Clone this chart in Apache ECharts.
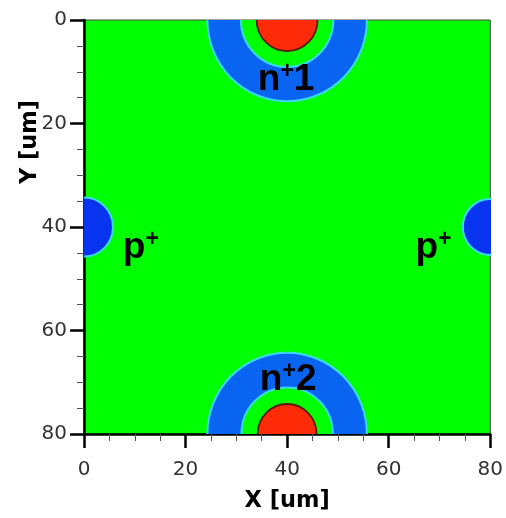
<!DOCTYPE html>
<html>
<head>
<meta charset="utf-8">
<script src="https://cdn.jsdelivr.net/npm/echarts@6/dist/echarts.min.js"></script>
<style>html,body{margin:0;padding:0;background:#fff;}#c{width:506px;height:518px;}</style>
</head>
<body>
<div id="c"></div>
<script>
// Doping regions: [centerX, centerY, radius] in um
const nRingOuter = [[40, 0, 15.7], [40, 80, 15.7]];
const nRingInner = [[40, 0, 9.1], [40, 80, 9.0]];
const nCore = [[40, 0, 6.0], [40, 80, 5.8]];
const pPlusDiscs = [[0, 40, 5.7], [80, 40, 5.4]];

// Annotation labels: [x, y, text]
const labelX = [39.8, 40.2, 11.2, 68.8];
const labelY = [11.6, 69.6, 44.0, 44.0];
const labelText = ['{b|n}{s|+}{b|1}', '{b|n}{s|+}{b|2}', '{b|p}{s|+}', '{b|p}{s|+}'];

const xTicks = [0, 20, 40, 60, 80];
const yTicks = [0, 20, 40, 60, 80];
const xName = 'X [um]';
const yName = 'Y [um]';

function discSeries(data, fill, stroke, lw) {
  return {
    type: 'custom',
    clip: true,
    silent: true,
    data: data,
    renderItem: function (params, api) {
      const c = api.coord([api.value(0), api.value(1)]);
      const s = api.size([api.value(2), api.value(2)]);
      return {
        type: 'circle',
        x: c[0], y: c[1],
        scaleY: s[1] / s[0],
        shape: { cx: 0, cy: 0, r: s[0] },
        style: { fill: fill, stroke: stroke, lineWidth: lw }
      };
    }
  };
}

const FONT = 'DejaVu Sans';
const chart = echarts.init(document.getElementById('c'));
chart.setOption({
  backgroundColor: '#ffffff',
  animation: false,
  grid: {
    left: 84, top: 20, width: 410, height: 418,
    show: true, backgroundColor: '#00ff00', borderColor: '#444', borderWidth: 1
  },
  graphic: [{
    type: 'text',
    x: 30, y: 142,
    rotation: Math.PI / 2,
    style: {
      text: yName, fill: '#000', font: 'bold 22.5px "DejaVu Sans"',
      align: 'center', verticalAlign: 'middle'
    }
  }],
  xAxis: {
    type: 'value', min: xTicks[0], max: xTicks[xTicks.length - 1], interval: 20,
    position: 'bottom',
    axisLine: { show: true, onZero: false, lineStyle: { color: '#000', width: 2.5 } },
    axisTick: { show: true, inside: false, length: 14, lineStyle: { color: '#000', width: 2.5 } },
    minorTick: { show: true, splitNumber: 4, length: 7, lineStyle: { color: '#555', width: 1 } },
    splitLine: { show: false },
    axisLabel: { fontSize: 20, color: '#333', margin: 26, fontFamily: FONT },
    name: xName, nameLocation: 'middle', nameGap: 56,
    nameTextStyle: { fontSize: 22.5, fontWeight: 'bold', color: '#000', fontFamily: FONT }
  },
  yAxis: {
    type: 'value', min: yTicks[0], max: yTicks[yTicks.length - 1], interval: 20, inverse: true,
    axisLine: { show: true, onZero: false, lineStyle: { color: '#000', width: 2.5 } },
    axisTick: { show: true, inside: false, length: 14, lineStyle: { color: '#000', width: 2.5 } },
    minorTick: { show: true, splitNumber: 4, length: 7, lineStyle: { color: '#555', width: 1 } },
    splitLine: { show: false },
    axisLabel: { fontSize: 20, color: '#333', margin: 17, fontFamily: FONT }
  },
  series: [
    discSeries(nRingOuter, '#0a64f2', '#3ad8f0', 2),
    discSeries(nRingInner, '#00ff00', '#3ad8f0', 2),
    discSeries(nCore, '#ff2a08', '#5a1a08', 1.8),
    discSeries(pPlusDiscs, '#0834f0', '#3ad8f0', 2),
    {
      type: 'scatter',
      silent: true,
      symbolSize: 0,
      itemStyle: { opacity: 1 },
      data: labelX.map((x, i) => ({ value: [x, labelY[i]], name: labelText[i] })),
      label: {
        show: true, position: 'inside', color: '#000',
        formatter: p => p.name,
        rich: {
          b: { fontSize: 37, fontWeight: 'bold', color: '#000', fontFamily: 'Liberation Sans', lineHeight: 40 },
          s: { fontSize: 23, fontWeight: 'bold', color: '#000', fontFamily: 'Liberation Sans', lineHeight: 40, verticalAlign: 'top' }
        }
      }
    }
  ]
});
</script>
</body>
</html>
